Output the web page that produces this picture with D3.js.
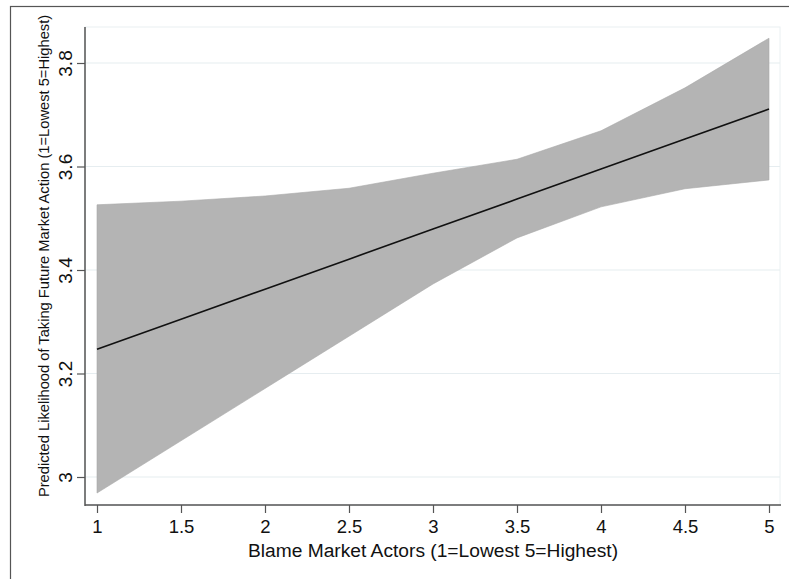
<!DOCTYPE html>
<html>
<head>
<meta charset="utf-8">
<script src="https://cdn.jsdelivr.net/npm/d3@7"></script>
<style>
  html, body { margin: 0; padding: 0; background: #fff; }
  svg { display: block; font-family: "Liberation Sans", Arial, Helvetica, sans-serif; }
</style>
</head>
<body>
<svg id="chart" width="789" height="579"></svg>
<script>
// Blame of market actors (1-5 scale) and predicted likelihood with 95% CI
const blameLevels = [1, 1.5, 2, 2.5, 3, 3.5, 4, 4.5, 5];
const predicted   = [3.247, 3.305, 3.363, 3.421, 3.479, 3.537, 3.595, 3.653, 3.711];
const ciUpper     = [3.526, 3.533, 3.543, 3.558, 3.587, 3.614, 3.669, 3.752, 3.848];
const ciLower     = [2.969, 3.070, 3.171, 3.272, 3.373, 3.462, 3.522, 3.557, 3.574];

const xTicks = [1, 1.5, 2, 2.5, 3, 3.5, 4, 4.5, 5];
const yTicks = [3, 3.2, 3.4, 3.6, 3.8];

const xTitle = "Blame Market Actors (1=Lowest 5=Highest)";
const yTitle = "Predicted Likelihood of Taking Future Market Action (1=Lowest 5=Highest)";

const rows = blameLevels.map((b, i) => ({ b, p: predicted[i], hi: ciUpper[i], lo: ciLower[i] }));

const svg = d3.select("#chart");

// plot region bounds
const region = { left: 85, right: 780, top: 27, bottom: 505 };

const x = d3.scaleLinear().domain([1, 5]).range([97, 769]);
const y = d3.scaleLinear().domain([3, 3.8]).range([477, 63]);

// outer frame
svg.append("rect")
  .attr("x", 10.5).attr("y", 6.5)
  .attr("width", 800).attr("height", 600)
  .attr("fill", "#fff")
  .attr("stroke", "#555").attr("stroke-width", 1.2);

// plot region outline
svg.append("rect")
  .attr("x", region.left).attr("y", region.top)
  .attr("width", region.right - region.left)
  .attr("height", region.bottom - region.top)
  .attr("fill", "#fff")
  .attr("stroke", "#eaf0f2").attr("stroke-width", 1);

// horizontal gridlines
svg.append("g")
  .selectAll("line")
  .data(yTicks)
  .join("line")
  .attr("x1", region.left).attr("x2", region.right)
  .attr("y1", d => y(d)).attr("y2", d => y(d))
  .attr("stroke", "#e6edf0").attr("stroke-width", 1.2);

// confidence band
const area = d3.area()
  .x(d => x(d.b))
  .y0(d => y(d.lo))
  .y1(d => y(d.hi));

svg.append("path")
  .datum(rows)
  .attr("d", area)
  .attr("fill", "#b4b4b4")
  .attr("stroke", "#a9a9a9")
  .attr("stroke-width", 0.6);

// prediction line
const line = d3.line()
  .x(d => x(d.b))
  .y(d => y(d.p));

svg.append("path")
  .datum(rows)
  .attr("d", line)
  .attr("fill", "none")
  .attr("stroke", "#111")
  .attr("stroke-width", 1.6);

// y axis
const yAxis = d3.axisLeft(y)
  .tickValues(yTicks)
  .tickFormat(d3.format("~g"))
  .tickSize(8)
  .tickSizeOuter(0);

const gy = svg.append("g")
  .attr("transform", `translate(${region.left},0)`)
  .call(yAxis);
gy.select(".domain").remove();
gy.append("line")
  .attr("x1", 0).attr("x2", 0)
  .attr("y1", region.top).attr("y2", region.bottom + 1)
  .attr("stroke", "#555").attr("stroke-width", 1.5);
gy.selectAll(".tick line").attr("stroke", "#555").attr("stroke-width", 1.2);
gy.selectAll(".tick text")
  .attr("fill", "#111")
  .attr("font-size", 19)
  .attr("text-anchor", "middle")
  .attr("dy", 0)
  .attr("x", 0)
  .attr("transform", "translate(-13,0) rotate(-90)");

// x axis
const xAxis = d3.axisBottom(x)
  .tickValues(xTicks)
  .tickFormat(d3.format("~g"))
  .tickSize(8)
  .tickSizeOuter(0);

const gx = svg.append("g")
  .attr("transform", `translate(0,${region.bottom})`)
  .call(xAxis);
gx.select(".domain").remove();
gx.append("line")
  .attr("x1", region.left).attr("x2", region.right + 1)
  .attr("y1", 0).attr("y2", 0)
  .attr("stroke", "#555").attr("stroke-width", 1.5);
gx.selectAll(".tick line").attr("stroke", "#555").attr("stroke-width", 1.2);
gx.selectAll(".tick text")
  .attr("fill", "#111")
  .attr("font-size", 18.5)
  .attr("y", 28)
  .attr("dy", 0);

// axis titles
svg.append("text")
  .attr("x", 433)
  .attr("y", 557)
  .attr("text-anchor", "middle")
  .attr("font-size", 19.2)
  .attr("fill", "#111")
  .text(xTitle);

svg.append("text")
  .attr("transform", `translate(49,256) rotate(-90)`)
  .attr("text-anchor", "middle")
  .attr("font-size", 14.7)
  .attr("fill", "#111")
  .text(yTitle);
</script>
</body>
</html>
